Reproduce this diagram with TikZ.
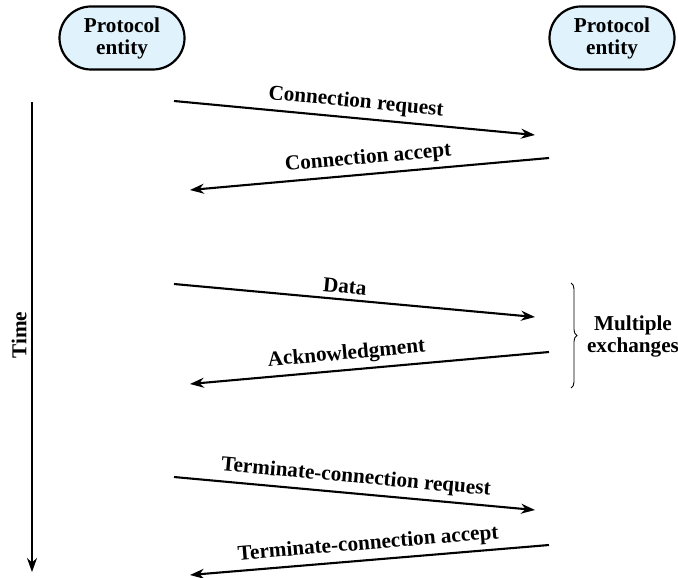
\documentclass[tikz,border=0pt]{standalone}
\usepackage{fontspec}
\setmainfont{Liberation Serif}
\usetikzlibrary{arrows.meta, shapes.misc, decorations.pathreplacing}

\begin{document}
\begin{tikzpicture}[x=0.5pt, y=-0.5pt, >=Stealth,
    font=\fontsize{10.6}{11}\selectfont\bfseries,
    entity/.style={rounded rectangle, draw, line width=1.1pt, fill=entityBlue,
      minimum width=64.5pt, minimum height=31.5pt, inner sep=1pt, align=center},
    msg/.style={line width=1.05pt, -{Stealth[length=7pt, width=5pt]}},
    msglabel/.style={sloped, above, inner sep=2.5pt}]
  \useasboundingbox (0,0) rectangle (678,577);

  % ==========================================
  % 1. COLORS
  % ==========================================
  \definecolor{entityBlue}{RGB}{224, 242, 252}

  % ==========================================
  % 2. PROTOCOL ENTITIES
  % ==========================================
  \node[entity] (left)  at (122, 38) {Protocol\\entity};
  \node[entity] (right) at (612, 38) {Protocol\\entity};

  % ==========================================
  % 3. TIME AXIS
  % ==========================================
  \coordinate (tTop) at (32, 102);
  \coordinate (tBot) at (32, 572);
  \draw[line width=1.05pt, -{Stealth[length=7pt, width=5pt]}] (tTop) -- (tBot);
  \node[rotate=90] (time) at (19, 335) {Time};

  % ==========================================
  % 4. MESSAGES
  % ==========================================
  \def\xL{174} % sender side
  \def\xR{535} % receiver side (arrow tips)
  \def\xRs{549} % receiver side (start of replies)
  \def\xLe{190} % sender side (arrow tips of replies)

  % --- Connection establishment ---
  \coordinate (creqS) at (\xL, 101);  \coordinate (creqE) at (\xR, 135);
  \coordinate (cacpS) at (\xRs, 158); \coordinate (cacpE) at (\xLe, 190);
  \draw[msg] (creqS) -- node[msglabel] (creqLbl) {Connection request} (creqE);
  \draw[msg] (cacpS) -- node[msglabel] (cacpLbl) {Connection accept} (cacpE);

  % --- Data transfer ---
  \coordinate (dataS) at (\xL, 284);  \coordinate (dataE) at (\xR, 317);
  \coordinate (ackS)  at (\xRs, 352); \coordinate (ackE)  at (\xLe, 384);
  \draw[msg] (dataS) -- node[msglabel, pos=0.47] (dataLbl) {Data} (dataE);
  \draw[msg] (ackS) -- node[msglabel, pos=0.56] (ackLbl) {Acknowledgment} (ackE);

  % --- Connection termination ---
  \coordinate (treqS) at (\xL, 477);  \coordinate (treqE) at (\xR, 510);
  \coordinate (tacpS) at (\xRs, 545); \coordinate (tacpE) at (\xLe, 575);
  \draw[msg] (treqS) -- node[msglabel] (treqLbl) {Terminate-connection request} (treqE);
  \draw[msg] (tacpS) -- node[msglabel] (tacpLbl) {Terminate-connection accept} (tacpE);

  % ==========================================
  % 5. BRACE
  % ==========================================
  \coordinate (brTop) at (571, 283);
  \coordinate (brBot) at (571, 388);
  \draw[line width=0.45pt, decorate, decoration={brace, amplitude=3pt}]
    (brTop) -- (brBot);
  \node[align=center] (multi) at (633, 336) {Multiple\\exchanges};

\end{tikzpicture}
\end{document}
